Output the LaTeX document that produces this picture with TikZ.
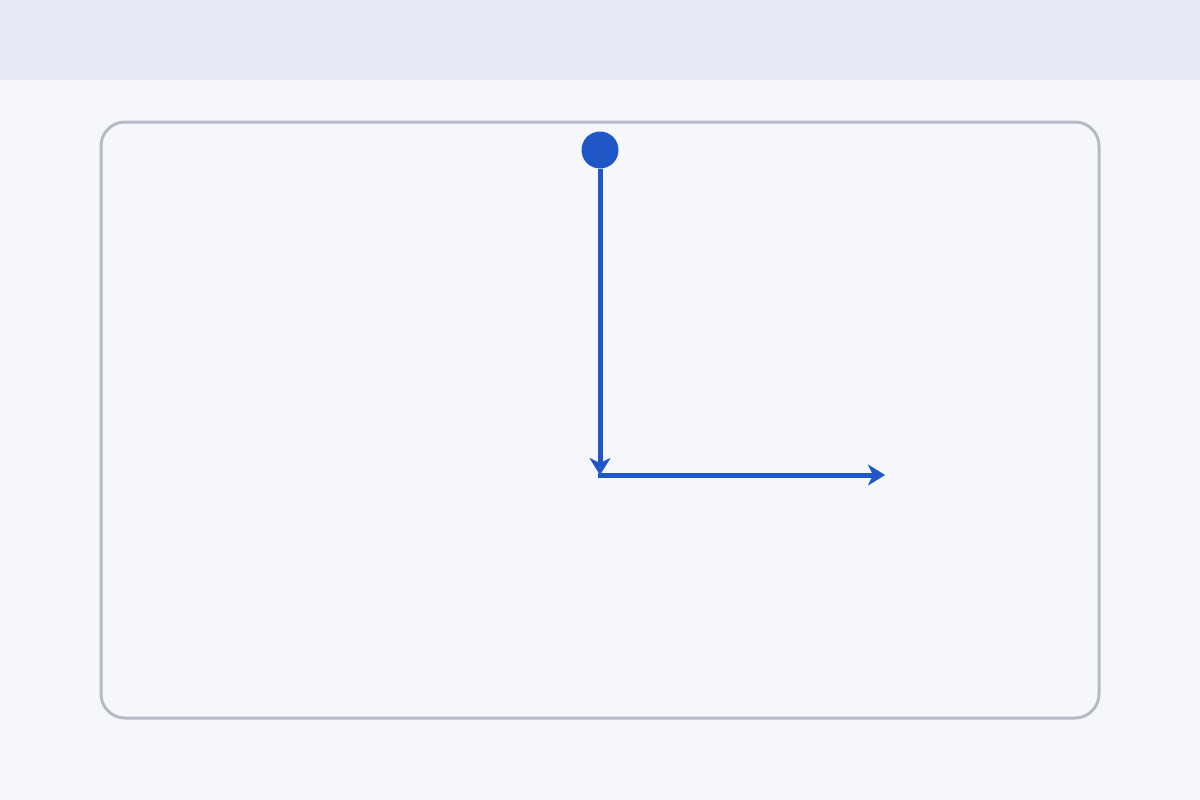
\documentclass[tikz,border=0pt]{standalone}
\usetikzlibrary{arrows.meta}
\definecolor{bandc}{HTML}{E6EBF5}
\definecolor{bgc}{HTML}{F5F7FB}
\definecolor{framec}{HTML}{B4BAC6}
\definecolor{bluec}{HTML}{1F56C8}
\tikzset{
  framebox/.style={draw=framec, line width=3pt, rounded corners=24pt},
  startdot/.style={circle, fill=bluec, minimum size=37pt, inner sep=0pt},
  flow/.style={draw=bluec, line width=5pt, -{Stealth[length=17pt,width=21pt,inset=5pt]}}
}
\begin{document}
\begin{tikzpicture}[x=1pt,y=-1pt]
\useasboundingbox (0,0) rectangle (1200,800);
\fill[bgc] (0,0) rectangle (1200,800);
\fill[bandc] (0,0) rectangle (1200,80);
\draw[framebox] (101,122) rectangle (1099,718);
\node[startdot] (start) at (600,150) {};
\coordinate (corner) at (600,475);
\coordinate (endp) at (885,475);
\draw[flow] (start.south) -- (corner);
\draw[flow] ([xshift=-2.5pt]corner) -- (endp);
\end{tikzpicture}
\end{document}
